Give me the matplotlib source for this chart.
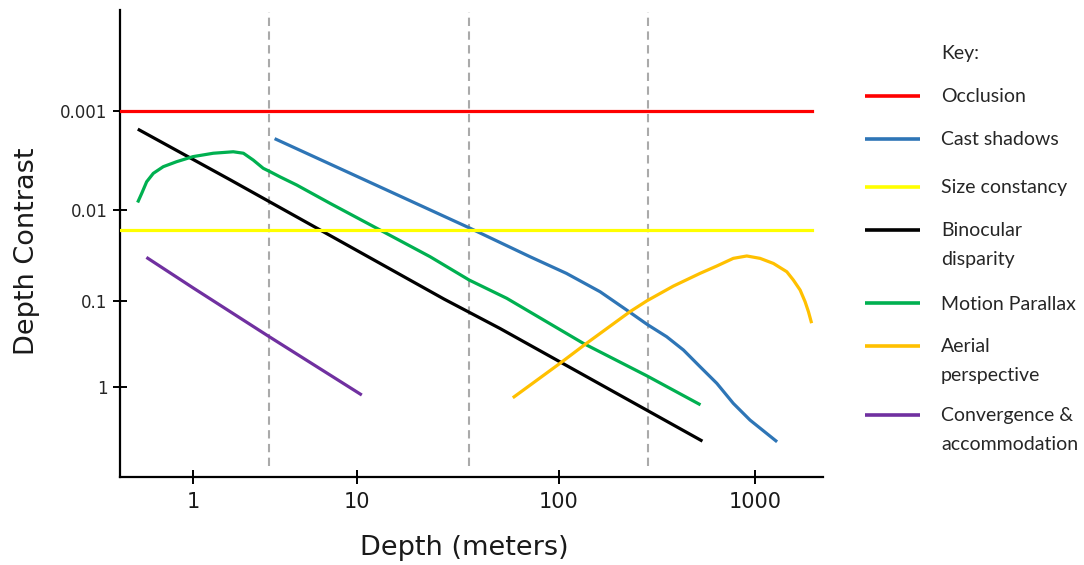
import numpy as np
import matplotlib
matplotlib.use('Agg')
import matplotlib.pyplot as plt

# values
occlusion_y = 0.001
size_constancy_y = 0.0166
line_end_x = 1950
zone_bounds = [2.9, 36, 285]

shadow_x = [3.21, 35.9, 71.8, 109, 162, 221, 281, 354, 431, 524, 638, 774, 942, 1276]
shadow_y = [0.00194, 0.0157, 0.0327, 0.0499, 0.0796, 0.128, 0.188, 0.262, 0.374, 0.585, 0.913, 1.56, 2.44, 4.25]

bino_x = [0.47, 1.7, 27, 51, 530]
bino_y = [0.00156, 0.005, 0.096, 0.21, 4.2]

motion_x = [0.464, 0.487, 0.522, 0.573, 0.659, 0.795, 1.0, 1.33, 1.76, 2.03, 2.33, 2.68, 2.95,
            3.39, 4.29, 6.85, 13.0, 23.0, 35.9, 55.1, 133, 280, 518]
motion_y = [0.00812, 0.00679, 0.00519, 0.00427, 0.00366, 0.00326, 0.0029, 0.00268, 0.00259,
            0.00268, 0.00314, 0.0038, 0.00411, 0.00463, 0.0056, 0.00856, 0.0166, 0.0327, 0.0591,
            0.094, 0.313, 0.745, 1.59]

aerial_x = [59.9, 101, 138, 230, 281, 383, 524, 638, 774, 907, 1060, 1240, 1451, 1567, 1697,
            1799, 1871, 1932]
aerial_y = [1.31, 0.535, 0.313, 0.134, 0.1, 0.0689, 0.0499, 0.0414, 0.0341, 0.0321, 0.0341,
            0.0388, 0.0479, 0.0591, 0.0762, 0.1027, 0.134, 0.175]

conv_x = [0.53, 1, 2.9, 10.4]
conv_y = [0.034, 0.072, 0.26, 1.22]

x_ticks = [1, 10, 100, 1000]
x_labels = ['1', '10', '100', '1000']
y_ticks = [0.001, 0.01, 0.1, 1]
y_labels = ['0.001', '0.01', '0.1', '1']

key_labels = ['Occlusion', 'Cast shadows', 'Size constancy', 'Binocular\ndisparity',
              'Motion Parallax', 'Aerial\nperspective', 'Convergence &\naccommodation']
key_colors = ['#ff0000', '#2e75b6', '#ffff00', '#000000', '#00b050', '#ffc000', '#7030a0']


def decade_scale(first_decade, widths):
    # log scale where every decade gets its own width (the original is hand drawn)
    lk = first_decade + np.arange(len(widths) + 1, dtype=float)
    pos = np.concatenate([[0.0], np.cumsum(widths)])
    lk = np.concatenate([[lk[0] - 20], lk, [lk[-1] + 20]])
    pos = np.concatenate([[pos[0] - 20 * widths[0]], pos, [pos[-1] + 20 * widths[-1]]])

    def fwd(v):
        v = np.asarray(v, dtype=float)
        return np.interp(np.log10(np.maximum(v, 1e-30)), lk, pos)

    def inv(p):
        return 10 ** np.interp(np.asarray(p, dtype=float), pos, lk)
    return fwd, inv


W, H = 1084, 565
fig = plt.figure(figsize=(W / 100, H / 100), dpi=100)
ax = fig.add_axes([120 / W, (H - 477) / H, 703 / W, 467 / H])

ax.set_xscale('function', functions=decade_scale(-1, [164, 164, 202, 196, 196]))
ax.set_yscale('function', functions=decade_scale(-4, [99.3, 99.3, 90.7, 86, 86]))
ax.set_xlim(0.359, 2220)
ax.set_ylim(11.2, 9.68e-5)

lw = 2.3
for b in zone_bounds:
    ax.axvline(b, ymin=0.024, ymax=0.995, color='#aaaaaa', lw=1.5, dashes=(4, 2.6), zorder=1)

x0 = ax.get_xlim()[0]
ax.plot([x0, line_end_x], [occlusion_y, occlusion_y], color=key_colors[0], lw=lw, zorder=3)
ax.plot([x0, line_end_x], [size_constancy_y, size_constancy_y], color=key_colors[2], lw=lw, zorder=3)
ax.plot(shadow_x, shadow_y, color=key_colors[1], lw=lw, solid_joinstyle='round')
ax.plot(bino_x, bino_y, color=key_colors[3], lw=lw)
ax.plot(motion_x, motion_y, color=key_colors[4], lw=lw, solid_joinstyle='round')
ax.plot(aerial_x, aerial_y, color=key_colors[5], lw=lw, solid_joinstyle='round')
ax.plot(conv_x, conv_y, color=key_colors[6], lw=lw)

for s in ['top', 'right']:
    ax.spines[s].set_visible(False)
for s in ['left', 'bottom']:
    ax.spines[s].set_linewidth(1.6)

ax.set_xticks(x_ticks, x_labels)
ax.set_yticks(y_ticks, y_labels)
ax.minorticks_off()
ax.tick_params(axis='both', direction='inout', length=10, width=1.4, colors='black')
ax.tick_params(axis='x', labelsize=15, pad=6, labelcolor='#1a1a1a')
ax.tick_params(axis='y', labelsize=12, pad=4, labelcolor='#262626')

# overlay in pixel units for axis titles and the key
kax = fig.add_axes([0, 0, 1, 1])
kax.set_xlim(0, W)
kax.set_ylim(H, 0)
kax.axis('off')

kax.text(464, 548, 'Depth (meters)', fontsize=19.5, ha='center', va='center', color='#1a1a1a')
kax.text(27, 251, 'Depth Contrast', fontsize=19.5, ha='center', va='center', rotation=90, color='#1a1a1a')

kfont = dict(family=['Lato', 'DejaVu Sans'], fontsize=14, color='#262626', va='center', ha='left')
kax.text(941, 53, 'Key:', **kfont)
row_y = [96, 138.5, 187, 230, 303, 346, 415]
for y, lab, c in zip(row_y, key_labels, key_colors):
    kax.plot([865, 920], [y, y], color=c, lw=2.6, solid_capstyle='butt')
    for i, part in enumerate(lab.split('\n')):
        kax.text(941, y + 1 + 29 * i, part, **kfont)

fig.savefig('out.png', dpi=100)
